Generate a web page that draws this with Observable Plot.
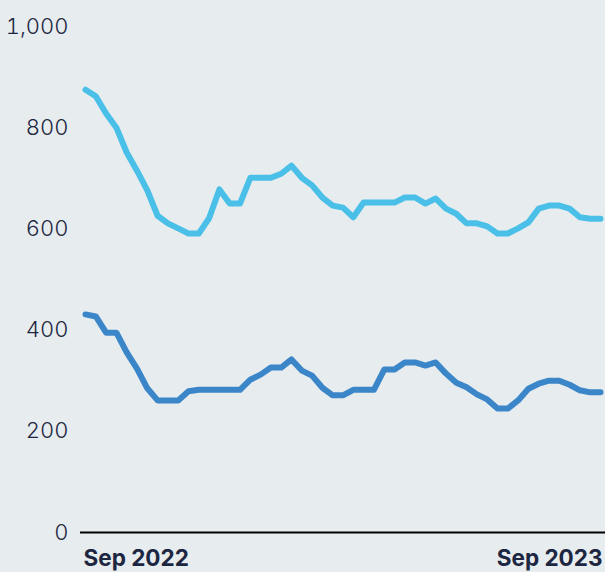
<!DOCTYPE html>
<html><head><meta charset="utf-8">
<script src="https://cdn.jsdelivr.net/npm/d3@7"></script>
<script src="https://cdn.jsdelivr.net/npm/@observablehq/plot@0.6"></script>
<style>
html,body{margin:0;padding:0;background:#e7ecef;}
</style></head><body><div id="chart"></div>
<script>
const dates = [
"2022-09-16","2022-09-23","2022-09-30","2022-10-07","2022-10-14","2022-10-21","2022-10-28",
"2022-11-04","2022-11-11","2022-11-18","2022-11-25","2022-12-02","2022-12-09","2022-12-16",
"2022-12-23","2022-12-30","2023-01-06","2023-01-13","2023-01-20","2023-01-27","2023-02-03",
"2023-02-10","2023-02-17","2023-02-24","2023-03-03","2023-03-10","2023-03-17","2023-03-24",
"2023-03-31","2023-04-07","2023-04-14","2023-04-21","2023-04-28","2023-05-05","2023-05-12",
"2023-05-19","2023-05-26","2023-06-02","2023-06-09","2023-06-16","2023-06-23","2023-06-30",
"2023-07-07","2023-07-14","2023-07-21","2023-07-28","2023-08-04","2023-08-11","2023-08-18",
"2023-08-25","2023-09-01"];
const lightSeries = [875, 862, 828, 800, 751, 715, 676, 626, 611, 601, 591, 591, 621, 678, 650, 650, 701, 701, 701, 709, 725, 701, 686, 662, 646, 642, 623, 652, 652, 652, 652, 662, 662, 650, 660, 640, 630, 611, 611, 605, 591, 591, 601, 613, 640, 646, 646, 640, 623, 620, 620];
const darkSeries = [431, 427, 395, 395, 356, 324, 285, 261, 261, 261, 279, 282, 282, 282, 282, 282, 302, 312, 326, 326, 342, 320, 310, 286, 271, 271, 282, 282, 282, 322, 322, 336, 336, 330, 336, 314, 296, 287, 273, 263, 245, 245, 261, 284, 294, 300, 300, 292, 281, 277, 277];
const yTicks = [0, 200, 400, 600, 800, 1000];
const xLabels = ["Sep 2022", "Sep 2023"];

const parse = d3.utcParse("%Y-%m-%d");
const rows = dates.map((d, i) => ({date: parse(d), light: lightSeries[i], dark: darkSeries[i]}));
const first = rows[0].date, last = rows[rows.length - 1].date;

const chart = Plot.plot({
  width: 605, height: 572,
  marginTop: 26, marginBottom: 40, marginLeft: 85, marginRight: 5,
  style: {background: "#e7ecef", fontFamily: "Inter, Lato, sans-serif", overflow: "visible"},
  x: {type: "utc", domain: [first, last], axis: null},
  y: {domain: [0, 1000], axis: null},
  marks: [
    Plot.axisY({ticks: yTicks, tickSize: 0, tickPadding: 17, tickFormat: d3.format(","),
      fontSize: 22, fontWeight: 300, fill: "#1c2641", label: null}),
    Plot.ruleY([0], {stroke: "#000", strokeWidth: 2, insetLeft: -5, insetRight: -5}),
    Plot.lineY(rows, {x: "date", y: "light", stroke: "#4ac0e8", strokeWidth: 6,
      strokeLinecap: "round", strokeLinejoin: "round"}),
    Plot.lineY(rows, {x: "date", y: "dark", stroke: "#3b86c8", strokeWidth: 6,
      strokeLinecap: "round", strokeLinejoin: "round"}),
    Plot.text([{date: first, label: xLabels[0]}], {x: "date", text: "label", frameAnchor: "bottom",
      textAnchor: "start", lineAnchor: "top", dx: -2, dy: 18, fontSize: 22.5, fontWeight: 700, fill: "#1c2641"}),
    Plot.text([{date: last, label: xLabels[1]}], {x: "date", text: "label", frameAnchor: "bottom",
      textAnchor: "end", lineAnchor: "top", dx: 2, dy: 18, fontSize: 22.5, fontWeight: 700, fill: "#1c2641"})
  ]
});
document.getElementById("chart").appendChild(chart);
</script></body></html>
